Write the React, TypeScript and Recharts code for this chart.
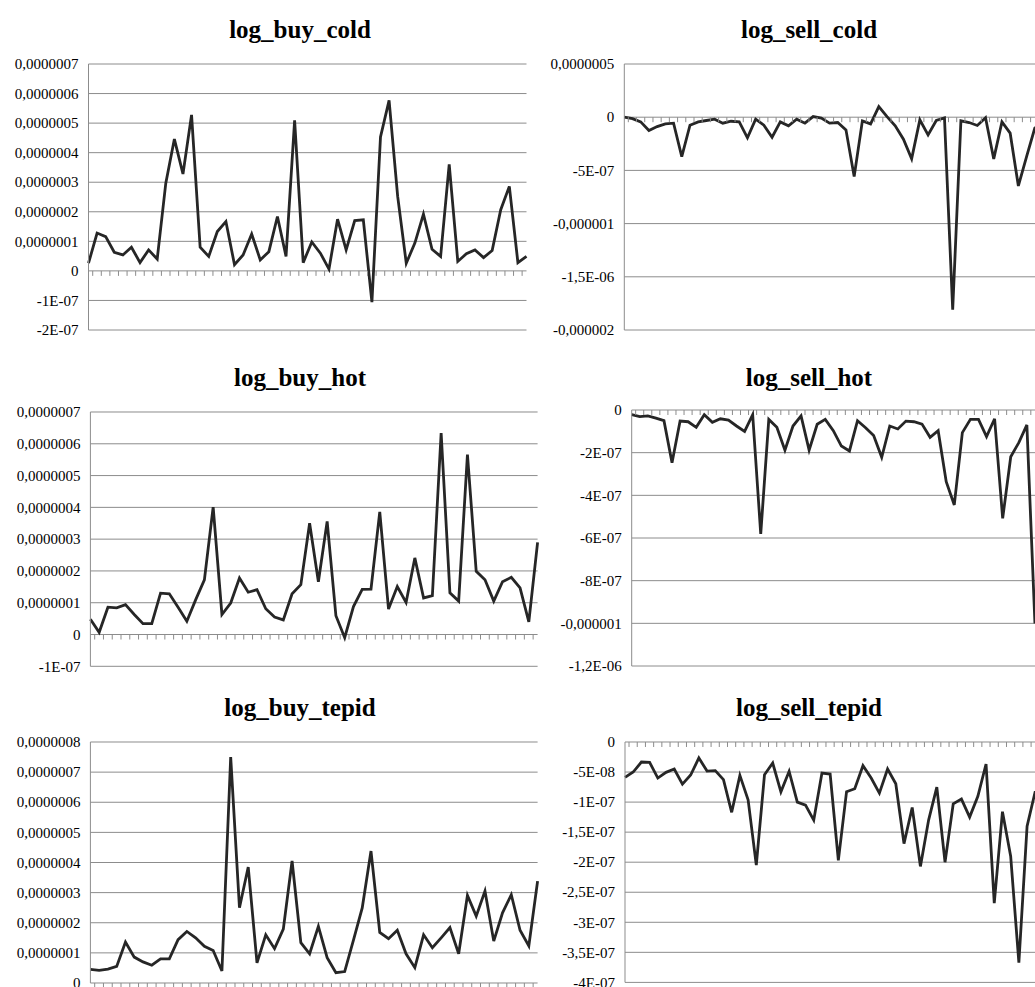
import React from 'react'
import { LineChart, Line, XAxis, YAxis, CartesianGrid } from 'recharts'

// all series in units of 1E-07
const PERIODS = Array.from({ length: 52 }, (_, i) => String(i + 1))

const BUY_COLD = [
  0.26, 1.28, 1.16, 0.63, 0.54, 0.8, 0.28, 0.71, 0.4, 2.97,
  4.46, 3.28, 5.28, 0.8, 0.49, 1.33, 1.67, 0.21, 0.54, 1.25,
  0.37, 0.65, 1.84, 0.49, 5.09, 0.28, 0.98, 0.6, 0.06, 1.75,
  0.71, 1.7, 1.73, -1.06, 4.53, 5.77, 2.52, 0.26, 0.94, 1.92,
  0.73, 0.49, 3.6, 0.32, 0.58, 0.71, 0.45, 0.69, 2.07, 2.86,
  0.28, 0.49,
]
const SELL_COLD = [
  0, -0.13, -0.44, -1.25, -0.88, -0.63, -0.56, -3.7, -0.75, -0.44,
  -0.31, -0.19, -0.56, -0.38, -0.44, -1.94, -0.19, -0.75, -1.88, -0.44,
  -0.81, -0.19, -0.56, 0.06, -0.09, -0.56, -0.5, -1.19, -5.58, -0.34,
  -0.63, 1.0, 0.06, -0.81, -2.07, -3.92, -0.25, -1.66, -0.31, -0.06,
  -18.1, -0.34, -0.5, -0.78, -0.06, -3.92, -0.44, -1.5, -6.46, -3.7,
  -1.03, -0.4,
]
const BUY_HOT = [
  0.48, 0.07, 0.86, 0.84, 0.94, 0.63, 0.34, 0.34, 1.3, 1.28,
  0.86, 0.42, 1.09, 1.72, 4.01, 0.63, 0.99, 1.78, 1.33, 1.41,
  0.81, 0.55, 0.46, 1.28, 1.57, 3.5, 1.66, 3.56, 0.59, -0.1,
  0.88, 1.42, 1.43, 3.86, 0.8, 1.51, 1.01, 2.41, 1.15, 1.22,
  6.34, 1.31, 1.05, 5.66, 1.99, 1.72, 1.05, 1.66, 1.8, 1.47,
  0.4, 2.9,
]
const SELL_HOT = [
  -0.22, -0.31, -0.28, -0.38, -0.5, -2.47, -0.52, -0.55, -0.81, -0.22,
  -0.58, -0.41, -0.47, -0.75, -1.0, -0.22, -5.81, -0.44, -0.81, -1.88,
  -0.75, -0.28, -1.88, -0.67, -0.44, -0.97, -1.69, -1.92, -0.5, -0.83,
  -1.2, -2.22, -0.75, -0.89, -0.52, -0.55, -0.66, -1.28, -0.97, -3.36,
  -4.45, -1.06, -0.44, -0.44, -1.25, -0.41, -5.08, -2.19, -1.53, -0.7,
  -10.0, -3.0,
]
const BUY_TEPID = [
  0.45, 0.42, 0.46, 0.55, 1.36, 0.86, 0.7, 0.59, 0.8, 0.8,
  1.44, 1.71, 1.5, 1.22, 1.08, 0.4, 7.5, 2.5, 3.85, 0.67,
  1.6, 1.14, 1.79, 4.05, 1.34, 0.97, 1.88, 0.84, 0.34, 0.38,
  1.42, 2.49, 4.38, 1.68, 1.47, 1.75, 0.97, 0.51, 1.6, 1.17,
  1.5, 1.84, 0.97, 2.91, 2.22, 3.05, 1.39, 2.33, 2.93, 1.75,
  1.23, 3.38,
]
const SELL_TEPID = [
  -0.588, -0.5, -0.333, -0.339, -0.6, -0.505, -0.45, -0.7, -0.55, -0.266,
  -0.483, -0.477, -0.627, -1.17, -0.555, -0.96, -2.05, -0.544, -0.35, -0.83,
  -0.488, -1.0, -1.05, -1.3, -0.516, -0.533, -1.97, -0.827, -0.777, -0.394,
  -0.6, -0.85, -0.45, -0.694, -1.69, -1.09, -2.07, -1.3, -0.75, -2.0,
  -1.03, -0.95, -1.25, -0.905, -0.366, -2.68, -1.16, -1.9, -3.67, -1.4,
  -0.82, -1.6,
]

const TICKS_BUY_COLD = [7, 6, 5, 4, 3, 2, 1, 0, -1, -2]
const LABELS_BUY_COLD = ['0,0000007', '0,0000006', '0,0000005', '0,0000004', '0,0000003', '0,0000002', '0,0000001', '0', '-1E-07', '-2E-07']
const TICKS_SELL_COLD = [5, 0, -5, -10, -15, -20]
const LABELS_SELL_COLD = ['0,0000005', '0', '-5E-07', '-0,000001', '-1,5E-06', '-0,000002']
const TICKS_BUY_HOT = [7, 6, 5, 4, 3, 2, 1, 0, -1]
const LABELS_BUY_HOT = ['0,0000007', '0,0000006', '0,0000005', '0,0000004', '0,0000003', '0,0000002', '0,0000001', '0', '-1E-07']
const TICKS_SELL_HOT = [0, -2, -4, -6, -8, -10, -12]
const LABELS_SELL_HOT = ['0', '-2E-07', '-4E-07', '-6E-07', '-8E-07', '-0,000001', '-1,2E-06']
const TICKS_BUY_TEPID = [8, 7, 6, 5, 4, 3, 2, 1, 0]
const LABELS_BUY_TEPID = ['0,0000008', '0,0000007', '0,0000006', '0,0000005', '0,0000004', '0,0000003', '0,0000002', '0,0000001', '0']
const TICKS_SELL_TEPID = [0, -0.5, -1, -1.5, -2, -2.5, -3, -3.5, -4]
const LABELS_SELL_TEPID = ['0', '-5E-08', '-1E-07', '-1,5E-07', '-2E-07', '-2,5E-07', '-3E-07', '-3,5E-07', '-4E-07']

const GRID = '#8c8c8c'
const INK = '#262626'
const FONT = 'Liberation Serif, serif'

// plot rectangles in page pixels: [x1, y1, x2, y2], chart origin x
const PANELS = [
  { title: 'log_buy_cold', values: BUY_COLD, ticks: TICKS_BUY_COLD, labels: LABELS_BUY_COLD, left: 0, plot: [88.5, 64, 526.5, 330], titleX: 300, titleY: 38 },
  { title: 'log_sell_cold', values: SELL_COLD, ticks: TICKS_SELL_COLD, labels: LABELS_SELL_COLD, left: 545, plot: [624.3, 64, 1043, 330], titleX: 809, titleY: 38 },
  { title: 'log_buy_hot', values: BUY_HOT, ticks: TICKS_BUY_HOT, labels: LABELS_BUY_HOT, left: 0, plot: [90.4, 411.7, 537.6, 666], titleX: 300, titleY: 386 },
  { title: 'log_sell_hot', values: SELL_HOT, ticks: TICKS_SELL_HOT, labels: LABELS_SELL_HOT, left: 545, plot: [631.7, 410, 1043, 666], titleX: 809, titleY: 386 },
  { title: 'log_buy_tepid', values: BUY_TEPID, ticks: TICKS_BUY_TEPID, labels: LABELS_BUY_TEPID, left: 0, plot: [90.4, 741.7, 537.6, 982.7], titleX: 300, titleY: 716 },
  { title: 'log_sell_tepid', values: SELL_TEPID, ticks: TICKS_SELL_TEPID, labels: LABELS_SELL_TEPID, left: 545, plot: [625, 742.3, 1043.5, 982.7], titleX: 809, titleY: 716 },
]

function Panel({ p }: { p: typeof PANELS[number] }) {
  const [x1, y1, x2, y2] = p.plot
  const top = y1 - 8
  const yw = x1 - p.left
  const width = x2 - p.left + 2
  const height = y2 - top + 8
  const max = Math.max(...p.ticks)
  const min = Math.min(...p.ticks)
  const plotH = y2 - y1
  const band = (x2 - x1) / PERIODS.length
  const zeroUp = (plotH * (0 - min)) / (max - min)
  const data = PERIODS.map((c, i) => ({ period: c, v: p.values[i] }))

  return (
    <div style={{ position: 'absolute', left: p.left, top, width, height, fontFamily: FONT }}>
      <LineChart width={width} height={height} data={data} margin={{ top: 8, right: 2, bottom: 7, left: 0 }}>
        <CartesianGrid vertical={false} stroke={GRID} strokeWidth={1} />
        <XAxis
          dataKey="period"
          height={1}
          interval={0}
          axisLine={false}
          tickLine={false}
          tickSize={0}
          tickMargin={0}
          tick={(t: any) => (
            <g>
              <line
                x1={t.x + band / 2}
                x2={t.x + band / 2}
                y1={t.y - zeroUp}
                y2={t.y - zeroUp + 5}
                stroke={GRID}
                strokeWidth={1}
              />
            </g>
          )}
        />
        <YAxis
          type="number"
          domain={[min, max]}
          ticks={p.ticks}
          interval={0}
          allowDataOverflow
          width={yw}
          axisLine={{ stroke: GRID }}
          tickLine={false}
          tickSize={0}
          tickMargin={10}
          tick={(t: any) => (
            <text x={t.x} y={t.y} dy="0.35em" textAnchor="end" style={{ fontFamily: FONT }} fontSize={15} fill="#000">
              {p.labels[p.ticks.indexOf(t.payload.value)] ?? ''}
            </text>
          )}
        />
        <Line
          type="linear"
          dataKey="v"
          stroke={INK}
          strokeWidth={2.8}
          dot={false}
          isAnimationActive={false}
        />
      </LineChart>
    </div>
  )
}

export default function App() {
  return (
    <div style={{ position: 'absolute', left: 0, top: 0, width: 1035, height: 987, overflow: 'hidden', background: '#fff' }}>
      {PANELS.map(p => <Panel key={p.title} p={p} />)}
      <svg width={1035} height={987} style={{ position: 'absolute', left: 0, top: 0, pointerEvents: 'none' }}>
        {PANELS.map(p => (
          <text key={p.title} x={p.titleX} y={p.titleY} textAnchor="middle" style={{ fontFamily: FONT }} fontWeight="bold" fontSize={25} fill="#000">
            {p.title}
          </text>
        ))}
      </svg>
    </div>
  )
}
